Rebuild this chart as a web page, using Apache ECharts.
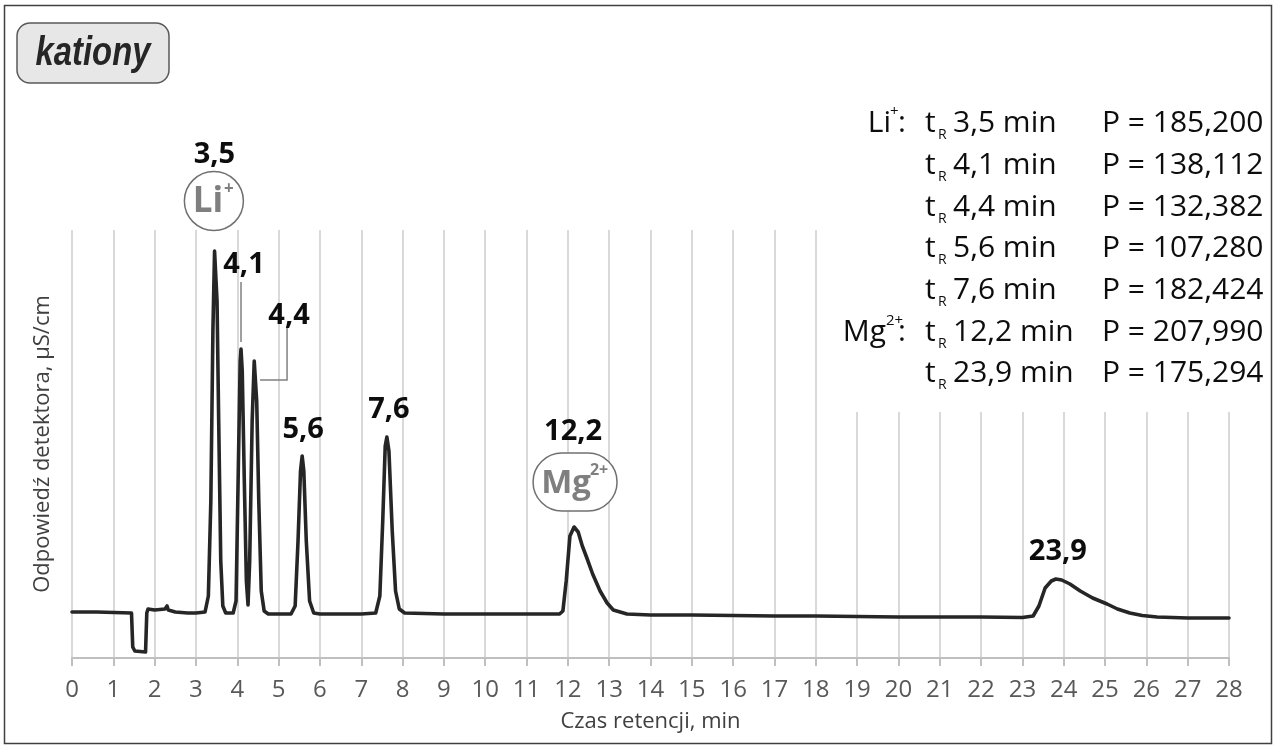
<!DOCTYPE html>
<html><head><meta charset="utf-8">
<script src="https://cdn.jsdelivr.net/npm/echarts@6/dist/echarts.min.js"></script>
<style>html,body{margin:0;padding:0;background:#fff}#c{width:1277px;height:749px}</style>
</head><body><div id="c"></div>
<script>
// ---- data ----
const timeMin = [0,0.6,0.62,1.44,1.47,1.52,1.78,1.81,1.84,2.0,2.25,2.3,2.33,2.5,2.8,3.0,3.22,3.3,3.36,3.41,3.45,3.47,3.51,3.55,3.6,3.65,3.72,3.9,3.97,4.02,4.07,4.09,4.12,4.17,4.22,4.26,4.3,4.36,4.41,4.43,4.47,4.52,4.58,4.65,4.75,5.3,5.4,5.47,5.53,5.57,5.61,5.67,5.75,5.85,6.0,7.0,7.35,7.45,7.52,7.58,7.62,7.67,7.75,7.83,7.92,8.05,9.0,10.0,11.0,11.8,11.88,11.96,12.05,12.15,12.25,12.35,12.46,12.6,12.78,12.95,13.1,13.43,14.0,15.0,16.0,17.0,18.0,19.0,20.0,21.0,22.0,23.0,23.26,23.4,23.55,23.7,23.81,23.95,24.15,24.4,24.7,25.05,25.3,25.6,25.9,26.26,27.0,28.0];
const response = [4.6,4.6,4.5,4.5,1.1,0.7,0.6,4.5,4.9,4.8,4.9,5.2,4.8,4.6,4.5,4.5,4.6,6.2,15.7,32.7,40.7,40.9,35.7,23.7,9.7,5.2,4.5,4.5,5.7,17.7,29.7,30.9,28.7,17.7,7.7,5.3,9.7,23.7,29.7,29.9,25.7,15.7,6.7,4.7,4.4,4.4,5.2,11.7,18.7,20.2,18.7,11.7,5.7,4.5,4.4,4.4,4.5,6.2,13.7,21.2,22.1,20.7,12.7,6.7,4.9,4.5,4.4,4.4,4.4,4.4,4.7,7.7,12.2,13.1,12.6,11.2,10.0,8.4,6.7,5.5,4.8,4.4,4.3,4.3,4.25,4.2,4.2,4.15,4.1,4.1,4.1,4.05,4.2,5.2,7.0,7.7,7.9,7.8,7.4,6.7,6.0,5.4,4.9,4.5,4.25,4.1,4.0,4.0];

const peakTimes = [3.5, 4.1, 4.4, 5.6, 7.6, 12.2, 23.9];
const peakTimeLabels = ['3,5', '4,1', '4,4', '5,6', '7,6', '12,2', '23,9'];
const peakAreas = ['185,200', '138,112', '132,382', '107,280', '182,424', '207,990', '175,294'];
const peakIonBase = ['Li', '', '', '', '', 'Mg', ''];
const peakIonCharge = ['+', '', '', '', '', '2+', ''];
const panelTitle = 'kationy';
const xAxisTitle = 'Czas retencji, min';
const yAxisTitle = 'Odpowiedź detektora, µS/cm';

// ---- chart ----
const chart = echarts.init(document.getElementById('c'), null, {renderer: 'canvas'});
const FONT = '"Open Sans", "Noto Sans", sans-serif';
const seriesData = timeMin.map((t, i) => [t, response[i]]);

chart.setOption({
  animation: false,
  backgroundColor: '#ffffff',
  grid: {left: 72, right: 48, top: 230, bottom: 91},
  xAxis: {
    type: 'value', min: 0, max: 28, interval: 1,
    name: xAxisTitle, nameLocation: 'middle', nameGap: 53,
    nameTextStyle: {fontFamily: FONT, fontSize: 22, color: '#404040'},
    axisLine: {show: true, lineStyle: {color: '#bfbfbf', width: 2}},
    axisTick: {show: true, length: 8, lineStyle: {color: '#bfbfbf', width: 2}},
    axisLabel: {fontFamily: FONT, fontSize: 24, color: '#595959', margin: 20},
    splitLine: {show: true, lineStyle: {color: '#d9d9d9', width: 2}}
  },
  yAxis: {
    type: 'value', min: 0, max: 42.8,
    name: yAxisTitle, nameLocation: 'middle', nameGap: 18,
    nameTextStyle: {fontFamily: FONT, fontSize: 22, color: '#404040'},
    axisLine: {show: false}, axisTick: {show: false}, axisLabel: {show: false},
    splitLine: {show: false}
  },
  series: [{
    type: 'line', data: seriesData, showSymbol: false, symbol: 'none', z: 3,
    lineStyle: {color: '#262626', width: 3.6, cap: 'round', join: 'round'}
  }]
});

// apex of every labelled peak, taken from the series itself
function apexOf(t) {
  let best = -1, bi = 0;
  timeMin.forEach((x, i) => { if (Math.abs(x - t) <= 0.25 && response[i] > best) { best = response[i]; bi = i; } });
  return chart.convertToPixel({gridIndex: 0}, [timeMin[bi], response[bi]]);
}

// annotation layout (pixel offsets from each apex)
const labelOffset = [[-1, -94], [3, -84], [34, -43], [1, -26], [2, -27], [-1, -95], [2, -27]];
const g = [];
const bold = (txt, x, y) => ({type: 'text', z: 20, style: {text: txt, x: x, y: y, align: 'center', verticalAlign: 'middle', font: 'bold 29px ' + FONT, fill: '#0d0d0d'}});

peakTimes.forEach((t, i) => {
  const p = apexOf(t);
  g.push(bold(peakTimeLabels[i], p[0] + labelOffset[i][0], p[1] + labelOffset[i][1]));
  if (i === 1) {
    g.push({type: 'line', z: 20, shape: {x1: p[0], y1: p[1] - 67, x2: p[0], y2: p[1] - 7}, style: {stroke: '#808080', lineWidth: 1.5}});
  }
  if (i === 2) {
    g.push({type: 'polyline', z: 20, shape: {points: [[p[0] + 32, p[1] - 31], [p[0] + 32, p[1] + 21], [p[0] + 5, p[1] + 21]]}, style: {stroke: '#808080', lineWidth: 1.5, fill: null}});
  }
  if (peakIonBase[i] === 'Li') {
    const cx = p[0] - 1.5, cy = p[1] - 48;
    g.push({type: 'circle', z: 20, shape: {cx: cx, cy: cy, r: 29.5}, style: {fill: '#ffffff', stroke: '#707070', lineWidth: 1.5}});
    g.push({type: 'text', z: 21, style: {text: peakIonBase[i], x: cx - 6, y: cy + 1, align: 'center', verticalAlign: 'middle', font: 'bold 35px ' + FONT, fill: '#7f7f7f'}});
    g.push({type: 'text', z: 21, style: {text: peakIonCharge[i], x: cx + 15, y: cy - 12, align: 'center', verticalAlign: 'middle', font: 'bold 17px ' + FONT, fill: '#7f7f7f'}});
  }
  if (peakIonBase[i] === 'Mg') {
    const cx = p[0] + 1, cy = p[1] - 45;
    g.push({type: 'rect', z: 20, shape: {x: cx - 42, y: cy - 29, width: 84, height: 58, r: 29}, style: {fill: '#ffffff', stroke: '#707070', lineWidth: 1.5}});
    g.push({type: 'text', z: 21, style: {text: peakIonBase[i], x: cx - 9, y: cy + 2, align: 'center', verticalAlign: 'middle', font: 'bold 33px ' + FONT, fill: '#7f7f7f'}});
    g.push({type: 'text', z: 21, style: {text: peakIonCharge[i], x: cx + 24, y: cy - 12, align: 'center', verticalAlign: 'middle', font: 'bold 16px ' + FONT, fill: '#7f7f7f'}});
  }
});

// outer frame and title box
g.push({type: 'rect', z: 1, shape: {x: 4.5, y: 5.5, width: 1267, height: 738}, style: {fill: null, stroke: '#404040', lineWidth: 1.5}});
g.push({type: 'rect', z: 20, shape: {x: 17, y: 23, width: 152, height: 60, r: 13}, style: {fill: '#e7e7e7', stroke: '#595959', lineWidth: 1.5}});
g.push({type: 'text', z: 21, x: 93, y: 54, scaleX: 0.8, style: {text: panelTitle, x: 0, y: 0, align: 'center', verticalAlign: 'middle', font: 'italic bold 41px "Liberation Sans", Arial, sans-serif', fill: '#262626'}});

// results table (top right), on a white panel
g.push({type: 'rect', z: 10, shape: {x: 822, y: 92, width: 445, height: 320}, style: {fill: '#ffffff'}});
const rowY = [122, 164, 206, 247, 289, 331, 372];
const txt = (s, x, y, al, size) => ({type: 'text', z: 21, style: {text: s, x: x, y: y, align: al, verticalAlign: 'middle', font: size + 'px ' + FONT, fill: '#0d0d0d'}});
peakTimes.forEach((t, i) => {
  const y = rowY[i] + 1;
  if (peakIonBase[i]) {
    g.push(txt(peakIonBase[i], peakIonBase[i] === 'Li' ? 891 : 886, y, 'right', 30));
    g.push(txt(peakIonCharge[i], peakIonBase[i] === 'Li' ? 890 : 886, y - 11, 'left', 15));
    g.push(txt(':', 898, y, 'left', 30));
  }
  g.push(txt('t', 925, y, 'left', 30));
  g.push(txt('R', 938, y + 12, 'left', 14));
  g.push(txt(peakTimeLabels[i] + ' min', 953, y, 'left', 30));
  g.push(txt('P = ' + peakAreas[i], 1102, y, 'left', 30));
});

chart.setOption({graphic: {elements: g}});
</script>
</body></html>
